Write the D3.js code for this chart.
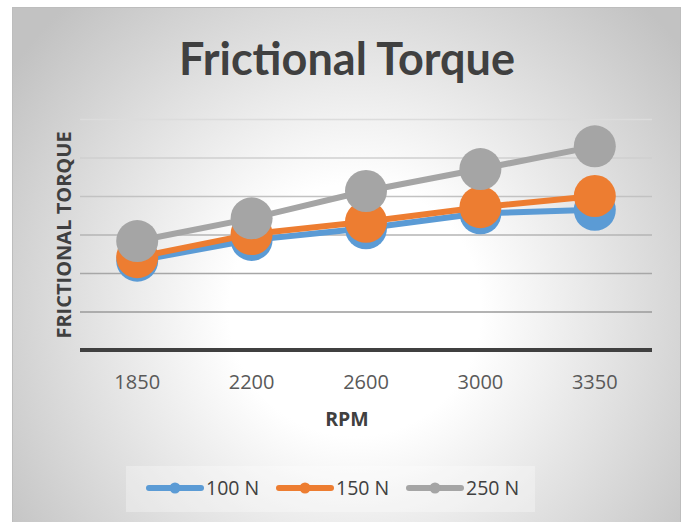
<!DOCTYPE html>
<html>
<head>
<meta charset="utf-8">
<script src="https://cdn.jsdelivr.net/npm/d3@7"></script>
<style>
  html, body { margin: 0; padding: 0; background: #ffffff; }
  svg { display: block; }
  text { font-family: "Open Sans", Lato, "DejaVu Sans", sans-serif; }
</style>
</head>
<body>
<svg id="chart" width="685" height="522"></svg>
<script>
// Chart data
const rpm = ["1850", "2200", "2600", "3000", "3350"];
const load100 = [2.32, 2.86, 3.16, 3.55, 3.64];
const load150 = [2.41, 3.01, 3.33, 3.71, 4.00];
const load250 = [2.83, 3.42, 4.13, 4.70, 5.29];
const seriesNames = ["100 N", "150 N", "250 N"];
const seriesColors = ["#5b9bd5", "#ed7d31", "#a5a5a5"];
const yTicks = [0, 1, 2, 3, 4, 5, 6];

const series = [load100, load150, load250].map((vals, i) => ({
  name: seriesNames[i], color: seriesColors[i],
  points: vals.map((v, j) => ({ x: rpm[j], y: v }))
}));

const svg = d3.select("#chart");
const defs = svg.append("defs");

// Chart area background: soft radial fade from white to light grey
const bg = defs.append("radialGradient").attr("id", "bgGrad")
  .attr("gradientUnits", "userSpaceOnUse")
  .attr("cx", 355).attr("cy", 310).attr("r", 420);
bg.append("stop").attr("offset", 0).attr("stop-color", "#ffffff");
bg.append("stop").attr("offset", 0.3).attr("stop-color", "#ffffff");
bg.append("stop").attr("offset", 1).attr("stop-color", "#c2c2c2");

svg.append("rect")
  .attr("x", 12.5).attr("y", 7.5).attr("width", 668).attr("height", 530)
  .attr("fill", "url(#bgGrad)").attr("stroke", "#bdbdbd").attr("stroke-width", 1);

const margin = { left: 80, right: 652, top: 119, bottom: 350 };

const x = d3.scaleBand().domain(rpm).range([margin.left, margin.right]);
const y = d3.scaleLinear().domain([0, 6]).range([margin.bottom, margin.top]);

// Gridlines get darker toward the bottom of the plot
const gridShade = d3.scaleLinear().domain([6, 1]).range(["#dcdcdc", "#9a9a9a"]);

// Horizontal gridlines (no tick labels on the value axis)
const yAxis = d3.axisLeft(y).tickValues(yTicks.slice(1))
  .tickSize(-(margin.right - margin.left)).tickFormat("");
const gy = svg.append("g").attr("transform", `translate(${margin.left},0)`).call(yAxis);
gy.select(".domain").remove();
gy.selectAll(".tick line").attr("stroke", d => gridShade(d)).attr("stroke-width", 1.5);

// Category axis
const xAxis = d3.axisBottom(x).tickSize(0).tickPadding(0);
const gx = svg.append("g").attr("transform", `translate(0,${margin.bottom})`).call(xAxis);
gx.select(".domain").remove();
gx.selectAll(".tick text")
  .attr("dy", 0).attr("y", 39)
  .attr("fill", "#595959").attr("font-size", 20)
  .style("font-family", "'Open Sans', Lato, sans-serif");

svg.append("line")
  .attr("x1", margin.left).attr("x2", margin.right)
  .attr("y1", y(0)).attr("y2", y(0))
  .attr("stroke", "#404040").attr("stroke-width", 4);

// Series: line then markers, drawn in order so later series sit on top
const line = d3.line().x(d => x(d.x) + x.bandwidth() / 2).y(d => y(d.y));
series.forEach(s => {
  const g = svg.append("g");
  g.append("path").datum(s.points)
    .attr("d", line).attr("fill", "none")
    .attr("stroke", s.color).attr("stroke-width", 6)
    .attr("stroke-linejoin", "round");
  g.selectAll("circle").data(s.points).join("circle")
    .attr("cx", d => x(d.x) + x.bandwidth() / 2)
    .attr("cy", d => y(d.y))
    .attr("r", 21)
    .attr("fill", s.color);
});

// Titles
svg.append("text").attr("x", 347).attr("y", 75)
  .attr("text-anchor", "middle").attr("font-size", 45).attr("font-weight", "bold")
  .style("font-family", "Lato, 'Open Sans', sans-serif")
  .attr("fill", "#404040").text("Frictional Torque");

svg.append("text").attr("x", 347).attr("y", 426)
  .attr("text-anchor", "middle").attr("font-size", 19.5).attr("font-weight", "bold")
  .attr("fill", "#404040").text("RPM");

svg.append("text")
  .attr("transform", "translate(71,235) rotate(-90)")
  .attr("text-anchor", "middle").attr("font-size", 20).attr("font-weight", "bold")
  .attr("fill", "#404040").text("FRICTIONAL TORQUE");

// Legend
svg.append("rect").attr("x", 126).attr("y", 466).attr("width", 409).attr("height", 46)
  .attr("fill", "#ffffff").attr("fill-opacity", 0.3);
const legendX = [149, 279, 409];
const lg = svg.append("g").selectAll("g").data(series).join("g")
  .attr("transform", (d, i) => `translate(${legendX[i]},488)`);
lg.append("line").attr("x1", 0).attr("x2", 52).attr("y1", 0).attr("y2", 0)
  .attr("stroke", d => d.color).attr("stroke-width", 6).attr("stroke-linecap", "round");
lg.append("circle").attr("cx", 26).attr("cy", 0).attr("r", 5.5).attr("fill", d => d.color);
lg.append("text").attr("x", 57).attr("y", 7)
  .attr("font-size", 19.5).attr("fill", "#404040").text(d => d.name);
</script>
</body>
</html>
